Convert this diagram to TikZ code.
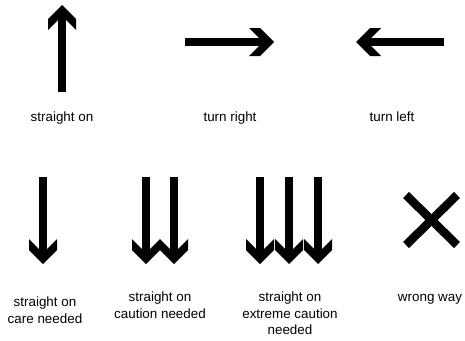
\documentclass[tikz,border=0pt]{standalone}
\usepackage{fontspec}
\setmainfont{Liberation Sans}

\tikzset{head/.pic = {\fill (0,0) -- (-14,14) -- (-25,14) -- (-15,4) -- (-15,-4) -- (-25,-14) -- (-14,-14) -- cycle;}}

\begin{document}
\begin{tikzpicture}[x=1pt, y=-1pt,
        roadarrow/.style = {line width=8.5pt, shorten >=14pt},
        caption/.style = {anchor=north, inner sep=0pt, align=center, font=\fontsize{13.4}{16.5}\selectfont}]
        \useasboundingbox (0,0) rectangle (465,340);

        % top row
        \coordinate (upS) at (62,92);
        \coordinate (upE) at (62,5);
        \coordinate (rightS) at (185,42);
        \coordinate (rightE) at (274,42);
        \coordinate (leftS) at (444,42);
        \coordinate (leftE) at (356,42);

        \draw[roadarrow] (upS) -- (upE);
        \pic[rotate=90] at (upE) {head};
        \draw[roadarrow] (rightS) -- (rightE);
        \pic at (rightE) {head};
        \draw[roadarrow] (leftS) -- (leftE);
        \pic[rotate=180] at (leftE) {head};

        \node[caption] at (62,112) (straight) {straight on};
        \node[caption] at (230,112) (right) {turn right};
        \node[caption] at (392,112) (left) {turn left};

        % bottom row
        \foreach \name/\x in {care/43, cautionA/146, cautionB/174, extremeA/260, extremeB/289, extremeC/318} {
                \coordinate (\name S) at (\x,177);
                \coordinate (\name E) at (\x,264);
                \draw[roadarrow] (\name S) -- (\name E);
                \pic[rotate=-90] at (\name E) {head};
        }

        \coordinate (crossA) at (406,195);
        \coordinate (crossB) at (457,245);
        \coordinate (crossC) at (457,195);
        \coordinate (crossD) at (406,245);
        \draw[line width=8.5pt] (crossA) -- (crossB);
        \draw[line width=8.5pt] (crossC) -- (crossD);

        \node[caption] at (45,297) (care) {straight on\\care needed};
        \node[caption] at (160,292) (caution) {straight on\\caution needed};
        \node[caption] at (290,292) (extreme) {straight on\\extreme caution\\needed};
        \node[caption] at (430,294) (wrong) {wrong way};
\end{tikzpicture}
\end{document}
